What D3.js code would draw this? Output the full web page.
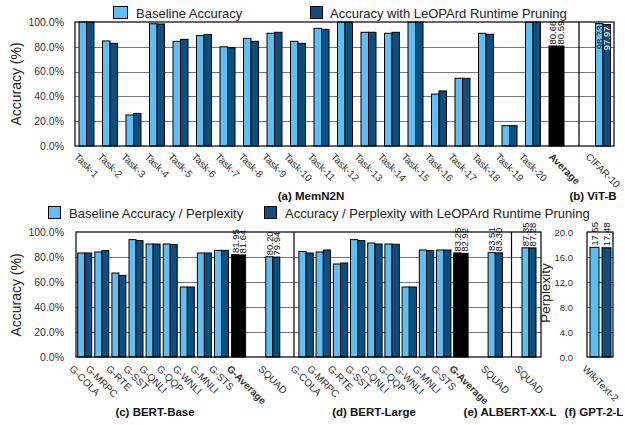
<!DOCTYPE html>
<html><head><meta charset="utf-8">
<script src="https://cdn.jsdelivr.net/npm/d3@7"></script>
<style>
body{margin:0;background:#fff;}
text{font-family:"Liberation Sans",Arial,Helvetica,sans-serif;}
</style></head>
<body><svg id="c" width="625" height="425"></svg>
<script>
// ---------- data ----------
const memCats = ["Task-1","Task-2","Task-3","Task-4","Task-5","Task-6","Task-7","Task-8","Task-9","Task-10",
  "Task-11","Task-12","Task-13","Task-14","Task-15","Task-16","Task-17","Task-18","Task-19","Task-20","Average"];
const memBase   = [100,84.7,25.0,98.6,84.4,89.0,80.0,86.8,90.9,84.4,94.9,99.9,91.7,90.9,99.9,41.9,54.6,90.9,16.4,99.9,80.66];
const memPruned = [100,82.8,26.3,98.4,86.0,90.0,79.3,84.4,91.7,82.8,94.1,99.9,91.7,91.7,99.9,44.4,54.6,90.1,16.4,99.9,80.59];
const vitCats = ["CIFAR-10"];
const vitBase = [98.73];
const vitPruned = [97.97];
const glueCats = ["G-COLA","G-MRPC","G-RTE","G-SST","G-QNLI","G-QQP","G-WNLI","G-MNLI","G-STS","G-Average","","SQUAD"];
const bertBaseBase   = [83.2,84.0,67.2,93.9,90.4,90.4,56.0,83.2,85.3,81.95,null,80.20];
const bertBasePruned = [83.2,85.1,65.3,93.1,90.4,89.9,56.0,83.2,85.3,81.64,null,79.94];
const bertLargeBase   = [84.5,84.0,74.4,93.9,91.2,90.4,56.0,85.6,85.6,83.25,null,83.51];
const bertLargePruned = [83.2,85.6,75.2,93.1,90.4,90.2,56.0,85.1,85.6,82.92,null,83.30];
const albertCats = ["SQUAD"];
const albertBase = [87.35];
const albertPruned = [87.28];
const gptCats = ["WikiText-2"];
const gptBase = [17.55];
const gptPruned = [17.48];
const accTicks = [0,20,40,60,80,100];
const pplTicks = [0,4,8,12,16,20];
const labeledCats = ["Average","G-Average","SQUAD","CIFAR-10","WikiText-2"];
const boldCats = ["Average","G-Average"];

// ---------- style ----------
const LIGHT = "#5bc0f8", DARK = "#0b4e80";
const svg = d3.select("#c");

const yTop = d3.scaleLinear().domain([0,100]).range([146,22]);
const yBot = d3.scaleLinear().domain([0,100]).range([357,232]);
const yPpl = d3.scaleLinear().domain([0,20]).range([357,232]);

function grid(y, ticks, x0, x1){
  svg.append("g").selectAll("line").data(ticks.slice(1,-1)).join("line")
    .attr("x1",x0).attr("x2",x1).attr("y1",d=>Math.round(y(d))+0.5).attr("y2",d=>Math.round(y(d))+0.5)
    .attr("stroke","#777").attr("stroke-width",1);
}
function frame(x0,x1,y0,y1,seps){
  const g = svg.append("g").attr("fill","none").attr("stroke","#000").attr("stroke-width",1.2);
  g.append("rect").attr("x",x0).attr("y",y0).attr("width",x1-x0).attr("height",y1-y0);
  (seps||[]).forEach(s=>g.append("line").attr("x1",s).attr("x2",s).attr("y1",y0).attr("y2",y1));
}
function yAxis(y, ticks, x, fmt, fs){
  const ax = d3.axisLeft(y).tickValues(ticks).tickSize(0).tickPadding(0).tickFormat(fmt);
  const g = svg.append("g").attr("transform",`translate(${x},0)`).call(ax);
  g.select(".domain").remove();
  g.selectAll("text").attr("font-size",fs).attr("fill","#333")
    .attr("font-family","'Liberation Sans',Arial,sans-serif");
}
function bars(cats, base, pruned, xc, y, bw, gap, labelTop, tickTop){
  const series = ["b","p"];
  const x1 = d3.scaleBand().domain(series).range([-(bw+gap/2), bw+gap/2]).paddingInner(gap/(bw+gap));
  const rows = [];
  cats.forEach((c,i)=>{
    if(!c) return;
    [base[i],pruned[i]].forEach((v,j)=>rows.push({c,v,s:series[j]}));
  });
  const g = svg.append("g");
  g.selectAll("rect").data(rows).join("rect")
    .attr("x",d=>xc(d.c)+x1(d.s)).attr("width",x1.bandwidth())
    .attr("y",d=>y(d.v)).attr("height",d=>y(0)-y(d.v))
    .attr("fill",d=>boldCats.includes(d.c)?"#000":(d.s==="b"?LIGHT:DARK))
    .attr("stroke","#000").attr("stroke-width",1);
  // value labels
  const lab = rows.filter(d=>labeledCats.includes(d.c));
  g.selectAll("text.v").data(lab).join("text").attr("class","v")
    .attr("transform",d=>{
      const cx = xc(d.c)+x1(d.s)+x1.bandwidth()/2+3.4;
      return labelTop ? `translate(${cx},${y(d.v)+2}) rotate(-90)` : `translate(${cx},${y(d.v)-1.5}) rotate(-90)`;
    })
    .attr("text-anchor",labelTop?"end":"start")
    .attr("font-size",9.5)
    .attr("fill",d=>labelTop && d.s==="p" ? "#fff" : "#111")
    .text(d=>d.v.toFixed(2));
  // x tick labels
  const tl = g.selectAll("text.t").data(cats.filter(c=>c)).join("text").attr("class","t")
    .attr("font-size",10).attr("fill","#333")
    .attr("font-weight",c=>boldCats.includes(c)?"bold":"normal")
    .attr("text-anchor","middle").attr("dominant-baseline","central")
    .text(c=>c);
  tl.each(function(c){
    const L = this.getComputedTextLength();
    const off = boldCats.includes(c)?8:0;
    const cy = tickTop + L*0.3536 + 3;
    d3.select(this).attr("transform",`translate(${xc(c)+off},${cy}) rotate(45)`);
  });
}

// ---------- top row ----------
grid(yTop, accTicks, 75, 614);
const xMem = d3.scalePoint().domain(memCats).range([86.5,556.5]);
const xVit = d3.scalePoint().domain(vitCats).range([603,603]);
bars(memCats, memBase, memPruned, xMem, yTop, 7.5, 0, false, 152);
bars(vitCats, vitBase, vitPruned, xVit, yTop, 7.5, 0, true, 152);
frame(75,614,22,146,[579]);
yAxis(yTop, accTicks, 64, d=>d.toFixed(1)+"%", 10.5);

// ---------- bottom row ----------
grid(yBot, accTicks, 76, 541);
grid(yPpl, pplTicks, 587, 613);
const xBB = d3.scalePoint().domain(glueCats).range([84.7,272.8]);
const xBL = d3.scalePoint().domain(glueCats).range([306.1,495.3]);
const xAl = d3.scalePoint().domain(albertCats).range([529,529]);
const xGp = d3.scalePoint().domain(gptCats).range([600.5,600.5]);
bars(glueCats, bertBaseBase, bertBasePruned, xBB, yBot, 7, 0, false, 364);
bars(glueCats, bertLargeBase, bertLargePruned, xBL, yBot, 7.2, 0, false, 364);
bars(albertCats, albertBase, albertPruned, xAl, yBot, 7, 0, false, 364);
bars(gptCats, gptBase, gptPruned, xGp, yPpl, 9, 3, false, 364);
frame(76,541,232,357,[294,511.5]);
frame(587,613,232,357,[]);
yAxis(yBot, accTicks, 64, d=>d.toFixed(1)+"%", 10.5);
yAxis(yPpl, pplTicks, 573, d=>d.toFixed(1), 9.5);

// ---------- axis titles ----------
function vtitle(x,y,t,fs){
  svg.append("text").attr("transform",`translate(${x},${y}) rotate(-90)`)
    .attr("text-anchor","middle").attr("font-size",fs||14).attr("fill","#222").text(t);
}
vtitle(21,84,"Accuracy (%)");
vtitle(21,295,"Accuracy (%)");
vtitle(550,293,"Perplexity",13.5);

// ---------- captions ----------
function cap(x,y,t){
  svg.append("text").attr("x",x).attr("y",y).attr("text-anchor","middle")
    .attr("font-size",11.5).attr("font-weight","bold").attr("fill","#111").text(t);
}
cap(311,200,"(a) MemN2N");
cap(593,200,"(b) ViT-B");
cap(155,416,"(c) BERT-Base");
cap(374,416,"(d) BERT-Large");
cap(510,416,"(e) ALBERT-XX-L");
cap(594,416,"(f) GPT-2-L");

// ---------- legends ----------
function legend(items){
  items.forEach(it=>{
    svg.append("rect").attr("x",it.bx).attr("y",it.by).attr("width",it.bw).attr("height",it.bh)
      .attr("fill",it.c).attr("stroke","#000").attr("stroke-width",1);
    svg.append("text").attr("x",it.tx).attr("y",it.ty).attr("font-size",13).attr("fill","#222").text(it.t);
  });
}
legend([
  {bx:113.5,by:6.5,bw:14,bh:12,c:LIGHT,tx:136,ty:17.5,t:"Baseline Accuracy"},
  {bx:310.5,by:6.5,bw:12,bh:12,c:DARK,tx:330,ty:17.5,t:"Accuracy with LeOPArd Runtime Pruning"},
  {bx:48.5,by:206.5,bw:12,bh:12,c:LIGHT,tx:69,ty:217.5,t:"Baseline Accuracy / Perplexity"},
  {bx:264.5,by:206.5,bw:12,bh:12,c:DARK,tx:285,ty:217.5,t:"Accuracy / Perplexity with LeOPArd Runtime Pruning"}
]);
</script></body></html>
